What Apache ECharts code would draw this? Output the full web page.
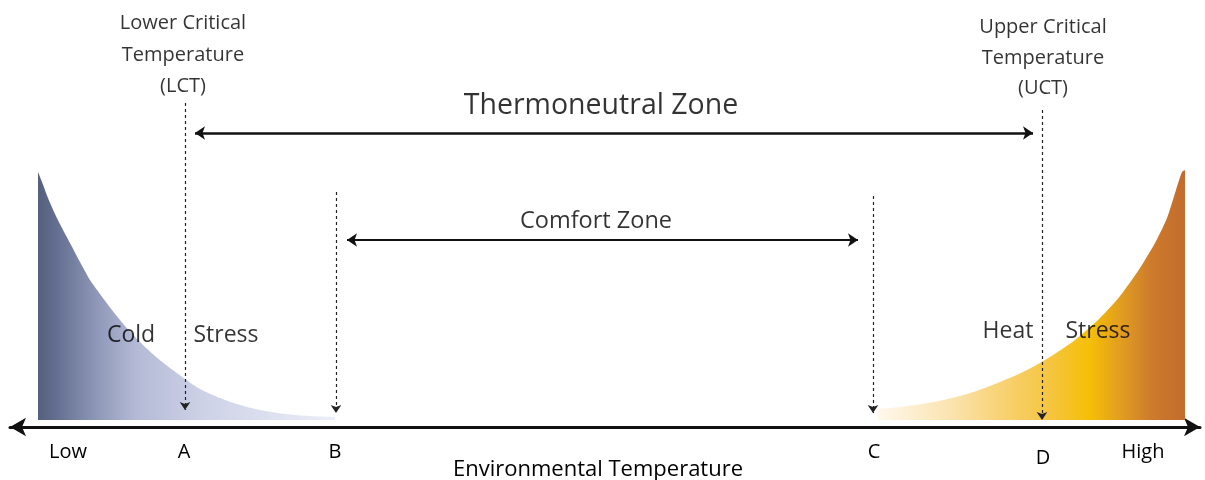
<!DOCTYPE html>
<html>
<head>
<meta charset="utf-8">
<script src="https://cdn.jsdelivr.net/npm/echarts@6.0.0/dist/echarts.min.js"></script>
<style>
html,body{margin:0;padding:0;background:#fff;}
#chart{width:1205px;height:480px;}
</style>
</head>
<body>
<div id="chart"></div>
<script>
// ---------- data ----------
// Environmental temperature axis (arbitrary units), stress intensity (arbitrary units)
const tickValues = [5.8, 17.4, 32.5, 86.4, 103.3, 113.3];
const tickLabels = ['Low', 'A', 'B', 'C', 'D', 'High'];

const coldStressX = [2.8, 3.2, 3.8, 4.5, 5.2, 6.0, 7.0, 8.0, 9.0, 10.2, 11.5, 13.0, 14.5, 16.0, 17.5, 19.0, 21.0, 23.0, 25.0, 27.5, 30.0, 32.5];
const coldStressY = [24.8, 23.8, 22.2, 20.6, 19.2, 17.7, 15.8, 14.0, 12.6, 11.0, 9.4, 7.8, 6.4, 5.2, 4.1, 3.1, 2.2, 1.5, 1.0, 0.6, 0.4, 0.3];

const heatStressX = [86.8, 89.0, 91.5, 94.0, 96.5, 99.0, 101.5, 104.0, 106.5, 109.0, 111.0, 113.0, 114.5, 115.7, 116.6, 117.2, 117.5];
const heatStressY = [1.1, 1.3, 1.65, 2.15, 2.85, 3.8, 4.9, 6.3, 8.0, 10.2, 12.4, 15.2, 17.7, 20.2, 23.0, 24.8, 25.0];

// dashed markers: x, top y, bottom y
const markerNames = ['A', 'B', 'C', 'D'];
const markerX = [17.5, 32.6, 86.3, 103.2];
const markerTop = [31.7, 22.8, 22.4, 31.0];
const markerBottom = [1.0, 0.7, 0.7, 0.0];

// zone arrows
const zoneNames = ['Thermoneutral Zone', 'Comfort Zone'];
const zoneStart = [18.5, 33.7];
const zoneEnd = [102.3, 84.8];
const zoneLevel = [28.7, 18.0];

// annotation texts and their anchor points
const annoTexts = ['Lower Critical\nTemperature\n(LCT)', 'Upper Critical\nTemperature\n(UCT)',
  'Thermoneutral Zone', 'Comfort Zone', 'Cold', 'Stress', 'Heat', 'Stress'];
const annoX = [17.3, 103.3, 59.1, 58.6, 12.1, 21.6, 99.8, 108.8];
const annoY = [36.5, 36.2, 31.4, 19.9, 8.5, 8.5, 8.9, 8.9];

const axisTitle = 'Environmental Temperature';

// ---------- styles ----------
const FONT = 'Open Sans';
const TXT = '#000000';
const annoStyles = [
  {fontSize: 20, lineHeight: 31.5},
  {fontSize: 20, lineHeight: 30.5},
  {fontSize: 28.5},
  {fontSize: 23.5},
  {fontSize: 23},
  {fontSize: 23},
  {fontSize: 23},
  {fontSize: 23}
];

const chart = echarts.init(document.getElementById('chart'), null, {renderer: 'canvas'});

const coldData = coldStressX.map((x, i) => [x, coldStressY[i]]);
const heatData = heatStressX.map((x, i) => [x, heatStressY[i]]);

const markerData = markerNames.map((n, i) => ({
  name: n,
  coords: [[markerX[i], markerTop[i]], [markerX[i], markerBottom[i]]]
}));
const zoneData = zoneNames.map((n, i) => ({
  name: n,
  coords: [[zoneStart[i], zoneLevel[i]], [zoneEnd[i], zoneLevel[i]]],
  lineStyle: {width: i === 0 ? 2.6 : 2}
}));
const annoData = annoTexts.map((t, i) => ({
  name: t,
  value: [annoX[i], annoY[i]],
  label: Object.assign({}, annoStyles[i])
}));

const option = {
  animation: false,
  backgroundColor: '#ffffff',
  grid: {left: 10, right: 5, top: 0, bottom: 53, containLabel: false, outerBoundsMode: 'none'},
  xAxis: {
    type: 'value', min: 0, max: 119,
    splitLine: {show: false},
    axisTick: {show: false},
    axisLine: {
      show: true, onZero: false,
      symbol: ['arrow', 'arrow'], symbolSize: [14, 16],
      lineStyle: {color: '#111', width: 3}
    },
    axisLabel: {
      show: true,
      customValues: tickValues,
      margin: 15,
      fontFamily: FONT, fontSize: 20, color: TXT,
      formatter: function (v) {
        let idx = 0, best = 1e9;
        tickValues.forEach((t, i) => { const d = Math.abs(t - v); if (d < best) { best = d; idx = i; } });
        const s = tickLabels[idx];
        return s === 'D' ? '{low|' + s + '}' : s;
      },
      rich: {low: {fontFamily: FONT, fontSize: 20, color: TXT, padding: [6, 0, 0, 0]}}
    },
    name: axisTitle,
    nameLocation: 'middle',
    nameGap: 32,
    nameMoveOverlap: false,
    nameTextStyle: {fontFamily: FONT, fontSize: 22, color: TXT, padding: [0, 14, 0, 0]}
  },
  yAxis: {type: 'value', min: -0.7, max: 42, show: false},
  series: [
    {
      name: 'Cold Stress', type: 'line', data: coldData, smooth: 0.25,
      showSymbol: false, silent: true,
      lineStyle: {width: 0},
      areaStyle: {
        opacity: 1,
        color: new echarts.graphic.LinearGradient(0, 0, 1, 0, [
          {offset: 0, color: '#55607e'},
          {offset: 0.06, color: '#636e90'},
          {offset: 0.2, color: '#8f98b8'},
          {offset: 0.33, color: '#b4bad6'},
          {offset: 0.55, color: '#cdd1e6'},
          {offset: 1, color: '#eceef7'}
        ])
      },
      z: 1
    },
    {
      name: 'Heat Stress', type: 'line', data: heatData, smooth: 0.25,
      showSymbol: false, silent: true,
      lineStyle: {width: 0},
      areaStyle: {
        opacity: 1,
        color: new echarts.graphic.LinearGradient(0, 0, 1, 0, [
          {offset: 0, color: '#fff8ec'},
          {offset: 0.23, color: '#fbe4b2'},
          {offset: 0.4, color: '#f8d274'},
          {offset: 0.56, color: '#f5c540'},
          {offset: 0.69, color: '#f5bf05'},
          {offset: 0.8, color: '#e09a22'},
          {offset: 0.89, color: '#cd7b2c'},
          {offset: 1, color: '#c26c2e'}
        ])
      },
      z: 1
    },
    {
      name: 'Markers', type: 'lines', coordinateSystem: 'cartesian2d',
      data: markerData, silent: true,
      symbol: ['none', 'arrow'], symbolSize: 8,
      lineStyle: {color: '#222', width: 1.2, type: [3, 3], opacity: 1},
      z: 3
    },
    {
      name: 'Zones', type: 'lines', coordinateSystem: 'cartesian2d',
      data: zoneData, silent: true,
      symbol: ['arrow', 'arrow'], symbolSize: 10,
      lineStyle: {color: '#111', opacity: 1},
      z: 3
    },
    {
      name: 'Annotations', type: 'scatter', data: annoData, symbolSize: 0,
      silent: true,
      label: {
        show: true, position: 'inside', formatter: '{b}',
        fontFamily: FONT, color: TXT, align: 'center', verticalAlign: 'middle'
      },
      z: 4
    }
  ]
};
chart.setOption(option);
</script>
</body>
</html>
